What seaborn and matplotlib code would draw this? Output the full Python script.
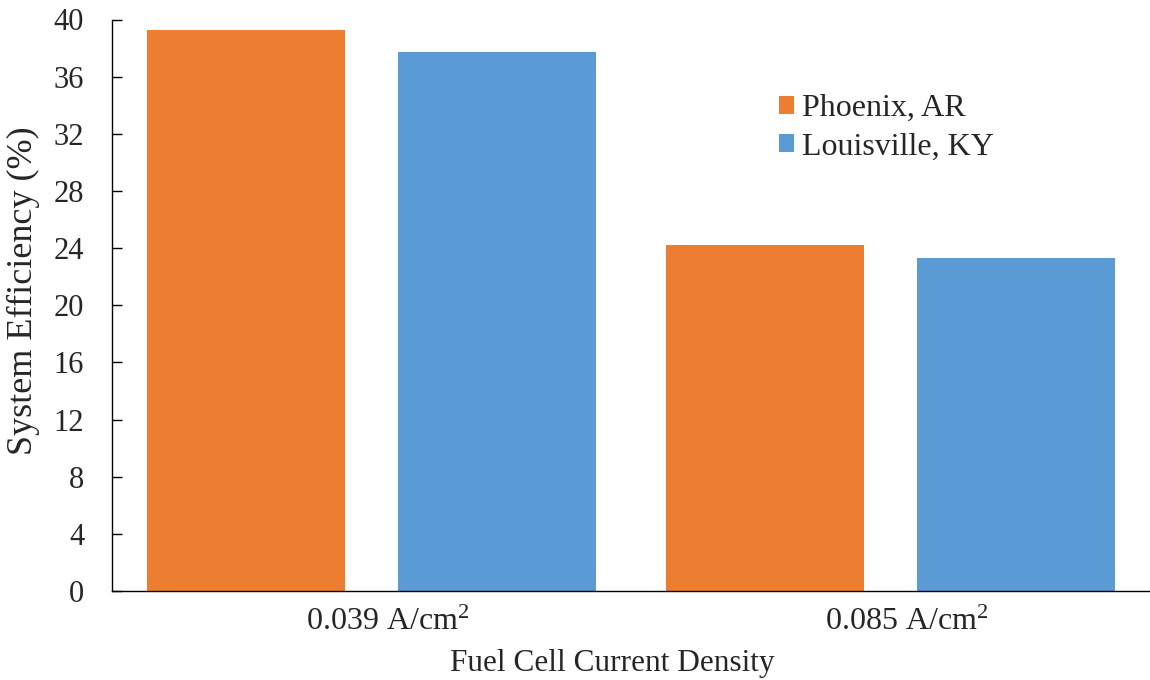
import matplotlib
matplotlib.use("Agg")
import matplotlib.pyplot as plt
import matplotlib.transforms as mtransforms
import seaborn as sns
import pandas as pd

# Data
densities = ["0.039 A/cm$^{2}$", "0.085 A/cm$^{2}$"]
sites = ["Phoenix, AR", "Louisville, KY"]
phoenix_eff = [39.27, 24.22]
louisville_eff = [37.75, 23.28]
y_ticks = [0, 4, 8, 12, 16, 20, 24, 28, 32, 36, 40]

colors = {"Phoenix, AR": "#ED7D31", "Louisville, KY": "#5B9BD5"}

df = pd.DataFrame({
    "density": densities * 2,
    "site": [sites[0]] * 2 + [sites[1]] * 2,
    "eff": phoenix_eff + louisville_eff,
})

sns.set_theme(style="white")
plt.rcParams["font.family"] = ["Liberation Serif", "DejaVu Serif"]
plt.rcParams["mathtext.fontset"] = "custom"
plt.rcParams["mathtext.rm"] = "Liberation Serif"
plt.rcParams["mathtext.it"] = "Liberation Serif:italic"

W, H = 1150, 680
fig = plt.figure(figsize=(W / 100, H / 100), dpi=100)
ax = fig.add_axes([112 / W, 1 - 591 / H, 1 - 112 / W, (591 - 19.5) / H])

sns.barplot(data=df, x="density", y="eff", hue="site", hue_order=sites,
            order=densities, palette=colors, saturation=1, errorbar=None,
            width=0.968, gap=0.213, ax=ax, linewidth=0)

ax.set_xlim(-0.5, 1.5)
ax.set_ylim(0, 40)
ax.set_yticks(y_ticks)

for side in ["top", "right"]:
    ax.spines[side].set_visible(False)
for side in ["left", "bottom"]:
    ax.spines[side].set_color("black")
    ax.spines[side].set_linewidth(1.0)

ax.tick_params(axis="y", direction="in", length=7, width=1.0, color="black",
               labelsize=22, pad=20, left=True)
ax.tick_params(axis="x", length=0, labelsize=23, pad=12)

# category labels sit slightly right of the group centres
shift = mtransforms.ScaledTranslation(16 / 100, 0, fig.dpi_scale_trans)
for lbl in ax.get_xticklabels():
    lbl.set_transform(lbl.get_transform() + shift)

ax.set_xlabel("Fuel Cell Current Density", fontsize=22.5)
ax.set_ylabel("System Efficiency (%)", fontsize=26)
ax.xaxis.set_label_coords((612 / W * W - 112) / (W - 112), -(649 - 591) / (591 - 19.5))
ax.yaxis.set_label_coords(-(112 - 40) / (W - 112), (591 - 291) / (591 - 19.5))

handles, labels = ax.get_legend_handles_labels()
ax.legend(handles, labels, loc="upper left",
          bbox_to_anchor=(779 / W, 1 - 94 / H), bbox_transform=fig.transFigure,
          frameon=False, fontsize=23, handlelength=0.48, handleheight=0.48,
          handletextpad=0.25, labelspacing=0.3, borderpad=0, borderaxespad=0)

fig.savefig("out.png", dpi=100)
